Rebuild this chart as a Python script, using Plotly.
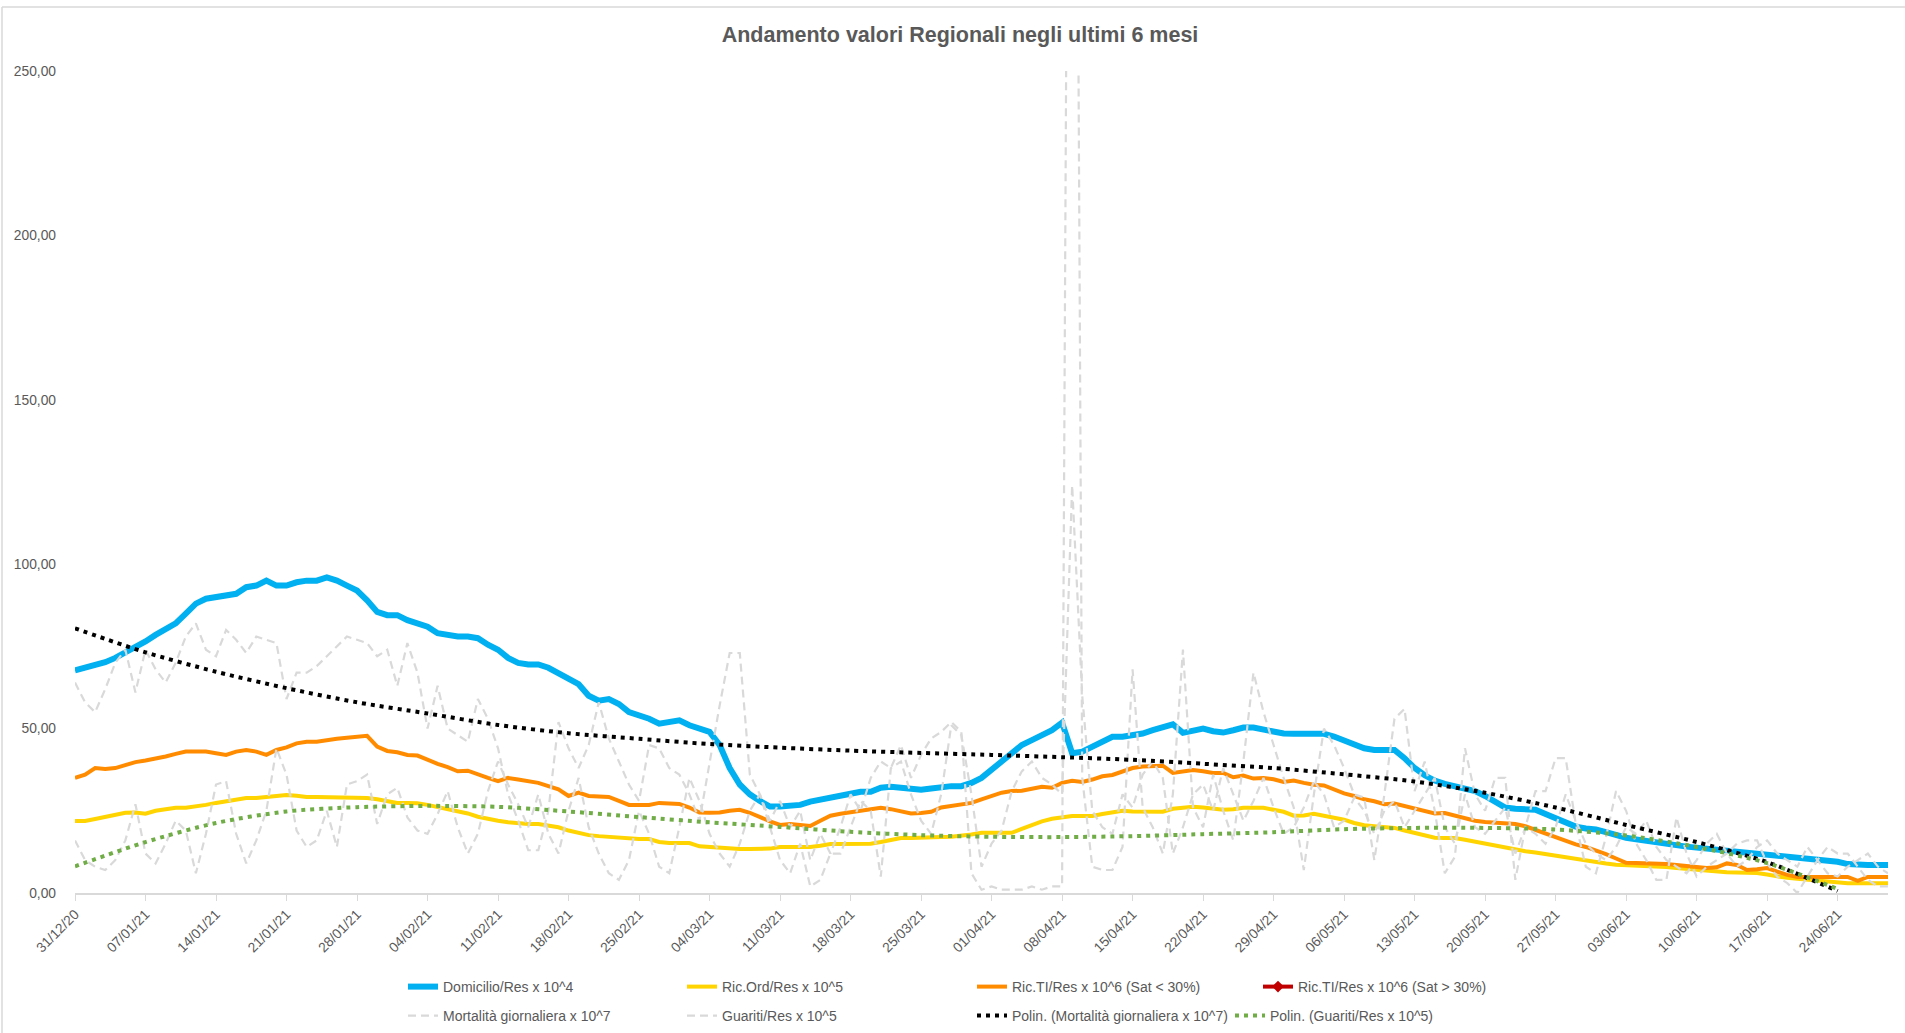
import pandas as pd
import plotly.graph_objects as go

# ---------------- data ----------------
start_date = "2020-12-31"
n_days = 181
dates = pd.date_range(start_date, periods=n_days, freq="D")

domicilio = [
    67.7, 68.5, 69.3, 70.2, 71.5, 73, 75, 76.5, 78.5, 80.5,
    82, 85, 88, 89.5, 90, 90.5, 91, 93, 93.5, 95,
    93.5, 93.5, 94.5, 95, 95, 96, 95, 93.5, 92, 89,
    85.5, 84.5, 84.5, 83, 82, 81, 79, 78.5, 78, 78,
    77.5, 75.5, 74, 71.5, 70, 69.5, 69.5, 68.5, 67, 65,
    63.5, 60, 58.5, 59, 57.5, 55, 54, 53, 51.5, 52,
    52.5, 51, 50, 49, 45, 38, 33, 30, 28, 26.3,
    26.3, 26.5, 26.8, 27.8, 28.5, 28.9, 29.5, 30.2, 30.8, 30.8,
    32, 32.3, 32, 31.8, 31.4, 31.8, 32.2, 32.5, 32.5, 33.5,
    35, 37.5, 40, 42.5, 45, 46.5, 48, 49.5, 51.8, 42.5,
    43, 44.5, 46, 47.5, 47.5, 48, 48.5, 49.5, 50.5, 51.3,
    48.7, 49.2, 50, 49.2, 48.8, 49.5, 50.3, 50.3, 49.7, 49,
    48.5, 48.4, 48.4, 48.4, 48.4, 47.6, 46.5, 45.5, 44, 43.5,
    43.5, 43.5, 41, 38, 35.8, 34.2, 33.2, 32.5, 32, 31,
    29.5, 27.5, 26, 25.6, 25.4, 25.3, 24, 22.8, 21.5, 20.2,
    19.6, 19.3, 18.5, 17.5, 16.8, 16.3, 15.8, 15.3, 14.9, 14.5,
    14.1, 13.8, 13.5, 13.3, 13.1, 12.7, 12.4, 12.1, 11.9, 11.6,
    11.3, 11, 10.7, 10.4, 10, 9.5, 8.8, 8.5, 8.5, 8.5, 8.5,
]

ric_ord = [
    21.9, 21.9, 22.5, 23.1, 23.7, 24.4, 24.5, 24.1, 25, 25.6,
    25.9, 25.9, 26.2, 26.8, 27.4, 27.8, 28.3, 28.9, 28.9, 29.2,
    29.6, 29.8, 29.6, 29.2, 29.2, 29.2, 29.2, 29.2, 29.2, 28.9,
    28.5, 27.8, 27.4, 27.4, 27.3, 26.8, 26.2, 25.6, 25, 24.2,
    23.2, 22.5, 22, 21.5, 21.2, 21, 21, 20.5, 20, 19,
    18.2, 17.6, 17.3, 17, 16.8, 16.5, 16.4, 16.4, 15.5, 15.2,
    15.2, 15.2, 14.2, 14, 13.6, 13.4, 13.4, 13.4, 13.4, 13.5,
    14, 14, 14, 14, 14.4, 14.9, 14.9, 14.9, 14.9, 15,
    15.5, 16.2, 16.7, 16.7, 16.7, 16.8, 17, 17.1, 17.3, 17.8,
    18.3, 18.3, 18.3, 18.3, 19.5, 20.8, 21.8, 22.6, 23, 23.4,
    23.4, 23.4, 24, 24.5, 25, 24.8, 24.7, 24.7, 24.7, 25.6,
    26, 26.2, 26, 25.6, 25.3, 25.5, 25.9, 25.9, 25.9, 25.3,
    24.7, 23.5, 23.6, 24.1, 23.6, 23.1, 22.3, 21.3, 20.6, 20.3,
    20.1, 19.8, 19, 18.2, 17.3, 16.8, 16.7, 16.7, 16.2, 15.6,
    15.1, 14.5, 13.7, 13.1, 12.7, 12.3, 11.8, 11.2, 10.7, 10.3,
    10, 9.5, 9, 8.6, 8.5, 8.3, 8.2, 8, 7.9, 7.6,
    7.3, 7, 6.7, 6.4, 6.3, 6.2, 6.1, 6.1, 5.6, 5,
    4.6, 4.3, 4, 3.8, 3.5, 3.2, 3, 3, 3, 3, 3,
]

ric_ti_sat_bassa = [
    35, 36, 38, 37.7, 38, 39, 39.8, 40.3, 40.8, 41.5,
    42.3, 43, 43, 43, 42.5, 42, 43, 43.5, 43, 42,
    43.5, 44.3, 45.5, 46, 46, 46.6, 46.9, 47.2, 47.5, 47.8,
    44.5, 43.2, 42.8, 42, 41.8, 40.5, 39.3, 38.3, 37, 37.2,
    36, 35, 34, 35, 34.5, 34, 33.5, 32.5, 31.5, 29.5,
    30.5, 29.5, 29.5, 29.2, 28, 26.8, 26.8, 26.8, 27.4, 27.3,
    27.1, 26, 24.5, 24.4, 24.5, 25, 25.3, 24.4, 23, 21.8,
    20.7, 21, 20.7, 20.4, 22, 23.5, 24.1, 24.5, 25, 25.4,
    25.9, 25.5, 24.8, 24.2, 24.3, 24.7, 26, 26.5, 27, 27.4,
    28.5, 29.5, 30.5, 31, 31.1, 31.7, 32.3, 32, 33.5, 34.1,
    33.8, 34.5, 35.5, 35.9, 37, 38, 38.5, 38.7, 38.7, 36.5,
    37, 37.4, 37, 36.5, 36.5, 35.2, 35.7, 34.8, 35, 34.6,
    33.8, 34.2, 33.5, 32.9, 32.7, 31.5, 30.3, 29.5, 28.5, 27.9,
    27, 27.2, 26.5, 25.8, 25, 24.2, 24.3, 23.5, 22.5, 22,
    21.6, 21.5, 21.3, 21, 20.3, 19.2, 18.2, 17, 15.8, 14.8,
    14, 13, 11.8, 10.5, 9.2, 9.1, 9.1, 9, 8.8, 8.5,
    8.2, 7.9, 7.6, 7.8, 9, 8.5, 7, 7.2, 7.6, 6.5,
    5.5, 4.9, 4.9, 4.9, 4.9, 4.9, 4.9, 3.7, 4.9, 4.9, 4.9,
]

ric_ti_sat_alta = [None]  # series only present in the legend, no values

mortalita = [
    64, 58, 55, 62, 70, 74, 61, 74, 68, 64,
    70, 78, 82, 74, 72, 80, 77, 73, 78, 77,
    76, 59, 67, 67, 69, 72, 75, 78, 77, 76,
    72, 74, 63, 76, 67, 50, 63, 50, 48, 46,
    59, 53, 44, 30, 22, 13, 13, 25, 52, 44,
    38, 45, 58, 47, 40, 33, 28, 45, 44, 38,
    36, 30, 22, 40, 57, 73, 73, 36, 30, 22,
    28, 20, 25, 10, 18, 12, 20, 30, 25, 35,
    40, 38, 45, 35, 42, 47, 49, 52, 49, 6,
    1, 2, 1, 1, 1, 2, 1, 2, 2, 620,
    35, 8, 7, 7, 14, 68, 26, 20, 12, 30,
    74, 26, 20, 36, 25, 16, 40, 67, 55, 45,
    35, 26, 7, 30, 50, 45, 38, 30, 29, 10,
    30, 53, 56, 31, 40, 25, 6, 11, 44, 30,
    25, 35, 35, 4, 20, 31, 31, 41, 41, 21,
    8, 6, 17, 31, 25, 15, 10, 4, 4, 23,
    12, 5, 8, 10, 12, 15, 16, 16, 9, 5,
    3, 0, 5, 10, 14, 12, 12, 8, 4, 2, 2,
]

guariti = [
    16, 10, 8, 7, 10, 16, 27, 12, 9, 15,
    22, 19, 6, 18, 33, 34, 18, 9, 16, 25,
    44, 36, 19, 14, 16, 25, 14, 33, 34, 36,
    21, 30, 32, 23, 19, 18, 24, 31, 20, 12,
    18, 31, 40, 33, 27, 20, 30, 18, 12, 25,
    35, 20, 12, 6, 4, 10, 25, 18, 8, 6,
    20, 35, 28, 18, 12, 8, 15, 25, 30, 20,
    10, 6, 15, 2, 4, 12, 12, 20, 28, 25,
    5, 38, 40, 30, 22, 18, 30, 51, 48, 30,
    8, 15, 19, 31, 37, 40, 35, 33, 30, 124,
    60, 25, 20, 18, 30, 26, 36, 40, 35, 12,
    20, 30, 33, 25, 38, 30, 22, 28, 35, 26,
    18, 20, 26, 34, 30, 20, 22, 29, 25, 18,
    25, 28, 20, 25, 30, 35, 20, 15, 30, 20,
    18, 22, 26, 12, 20, 18, 15, 20, 30, 22,
    15, 12, 10, 14, 20, 18, 22, 14, 10, 8,
    6, 10, 15, 18, 12, 8, 10, 14, 16, 12,
    10, 8, 14, 10, 6, 5, 8, 10, 12, 8, 6,
]

# polynomial trend lines read at each weekly tick
trend_dates = pd.date_range(start_date, "2021-06-24", freq="7D")
trend_mortalita = [80.5, 73.2, 67.3, 62.3, 58.0, 54.6, 51.1, 48.6, 46.9, 45.3,
                   44.2, 43.3, 42.6, 42.0, 41.3, 40.5, 39.3, 38.0, 36.1, 33.9,
                   30.5, 26.0, 20.7, 15.5, 9.4, 0.6]
trend_guariti = [8.1, 15.5, 21.3, 24.8, 26.1, 26.5, 26.2, 24.8, 23.1, 21.5,
                 20.1, 18.6, 17.6, 17.1, 17.0, 17.3, 17.9, 18.5, 19.4, 19.8,
                 19.8, 19.3, 17.5, 14.0, 9.1, 1.2]

tick_dates = pd.date_range(start_date, "2021-06-24", freq="7D")
tick_labels = [d.strftime("%d/%m/%y") for d in tick_dates]
y_ticks = [0, 50, 100, 150, 200, 250]

names = [
    "Domicilio/Res x 10^4",
    "Ric.Ord/Res x 10^5",
    "Ric.TI/Res x 10^6 (Sat < 30%)",
    "Ric.TI/Res x 10^6 (Sat > 30%)",
    "Mortalità giornaliera x 10^7",
    "Guariti/Res x 10^5",
    "Polin. (Mortalità giornaliera x 10^7)",
    "Polin. (Guariti/Res x 10^5)",
]

# ---------------- layout geometry (px) ----------------
W, H = 1905, 1033
PL, PR, PT, PB = 75, 17, 71, 140
plot_w = W - PL - PR
plot_h = H - PT - PB


def px_x(px):
    return (px - PL) / plot_w


def px_y(py):
    return (H - PB - py) / plot_h


GREY_TXT = "#595959"
FONT = "Liberation Sans, Arial, sans-serif"

fig = go.Figure()

fig.add_trace(go.Scatter(x=dates, y=domicilio, name=names[0], mode="lines",
                         line=dict(color="#00B0F0", width=6), legend="legend"))
fig.add_trace(go.Scatter(x=dates, y=ric_ord, name=names[1], mode="lines",
                         line=dict(color="#FFD400", width=4), legend="legend2"))
fig.add_trace(go.Scatter(x=dates, y=ric_ti_sat_bassa, name=names[2], mode="lines",
                         line=dict(color="#FF8C00", width=4), legend="legend3"))
fig.add_trace(go.Scatter(x=dates[:len(ric_ti_sat_alta)], y=ric_ti_sat_alta, name=names[3],
                         mode="lines+markers",
                         line=dict(color="#C00000", width=4),
                         marker=dict(symbol="diamond", size=9, color="#C00000"),
                         legend="legend4"))
fig.add_trace(go.Scatter(x=dates, y=mortalita, name=names[4], mode="lines",
                         line=dict(color="#D9D9D9", width=2.2, dash="8px,5px"),
                         legend="legend5"))
fig.add_trace(go.Scatter(x=dates, y=guariti, name=names[5], mode="lines",
                         line=dict(color="#D9D9D9", width=2.2, dash="8px,5px"),
                         legend="legend6"))
fig.add_trace(go.Scatter(x=trend_dates, y=trend_mortalita, name=names[6], mode="lines",
                         line=dict(color="#000000", width=4, dash="4px,5px",
                                   shape="spline", smoothing=0.8),
                         legend="legend7"))
fig.add_trace(go.Scatter(x=trend_dates, y=trend_guariti, name=names[7], mode="lines",
                         line=dict(color="#70AD47", width=4, dash="4px,5px",
                                   shape="spline", smoothing=0.8),
                         legend="legend8"))

# legends: one per entry, placed like the Excel two-row legend
row1_y = px_y(987)
row2_y = px_y(1016)
legend_pos = {
    "legend": (445, row1_y),
    "legend2": (724, row1_y),
    "legend3": (1014, row1_y),
    "legend4": (1300, row1_y),
    "legend5": (445, row2_y),
    "legend6": (724, row2_y),
    "legend7": (1014, row2_y),
    "legend8": (1272, row2_y),
}
legend_layout = {}
for key, (text_x, ly) in legend_pos.items():
    legend_layout[key] = dict(
        x=px_x(text_x - 42), y=ly, xanchor="left", yanchor="middle",
        orientation="h", bgcolor="rgba(0,0,0,0)", borderwidth=0,
        font=dict(family=FONT, size=14, color=GREY_TXT),
    )

fig.update_layout(
    width=W, height=H,
    margin=dict(l=PL, r=PR, t=PT, b=PB, pad=0, autoexpand=False),
    paper_bgcolor="white", plot_bgcolor="white",
    separators=",.",
    showlegend=True,
    title=dict(text="<b>Andamento valori Regionali negli ultimi 6 mesi</b>",
               x=px_x(960), xref="paper", xanchor="center",
               y=1 - 34 / H, yref="container", yanchor="middle",
               font=dict(family=FONT, size=21.5, color=GREY_TXT)),
    xaxis=dict(type="date", range=[dates[0], dates[-1]], automargin=False,
               tickvals=tick_dates, ticktext=tick_labels, tickangle=-45,
               ticks="outside", ticklen=6, tickcolor="#D9D9D9", tickwidth=1.3,
               showline=True, linecolor="#D9D9D9", linewidth=1.5,
               showgrid=False, zeroline=False,
               tickfont=dict(family=FONT, size=13.8, color=GREY_TXT)),
    yaxis=dict(range=[0, 250], tickvals=y_ticks, tickformat=".2f", automargin=False,
               showgrid=False, zeroline=False, showline=False, ticks="",
               ticklabelstandoff=18,
               tickfont=dict(family=FONT, size=13.8, color=GREY_TXT)),
    shapes=[
        dict(type="line", xref="paper", yref="paper",
             x0=px_x(2), x1=px_x(W), y0=px_y(7), y1=px_y(7),
             line=dict(color="#D9D9D9", width=1.5)),
        dict(type="line", xref="paper", yref="paper",
             x0=px_x(2), x1=px_x(2), y0=px_y(7), y1=px_y(H),
             line=dict(color="#D9D9D9", width=1.5)),
    ],
    **legend_layout,
)

fig.write_html("out.html", config={"displayModeBar": False},
               post_script="document.body.style.margin='0px';")
